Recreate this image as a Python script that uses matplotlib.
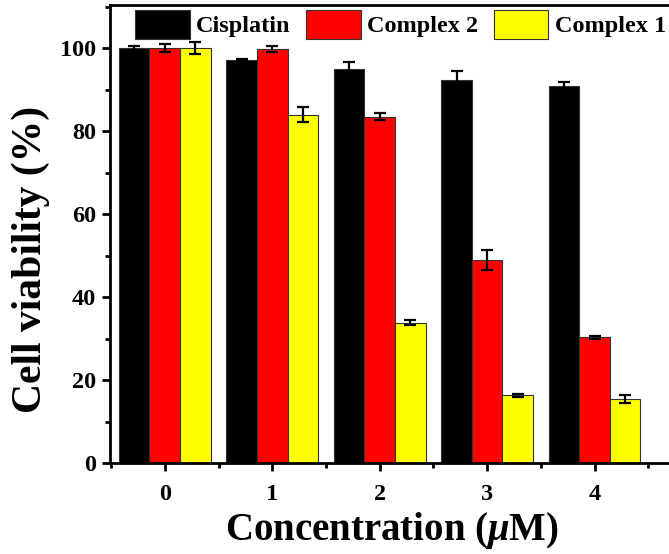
import matplotlib
matplotlib.use("Agg")
import matplotlib.pyplot as plt
import numpy as np
from matplotlib.ticker import MultipleLocator

plt.rcParams['font.family'] = ['Liberation Serif', 'DejaVu Serif']
plt.rcParams['font.weight'] = 'bold'
plt.rcParams['mathtext.fontset'] = 'custom'
plt.rcParams['mathtext.it'] = 'Liberation Serif:italic:bold'
plt.rcParams['mathtext.rm'] = 'Liberation Serif:bold'

concentrations = ["0", "1", "2", "3", "4"]
series_names = ["Cisplatin", "Complex 2", "Complex 1"]
cisplatin = [100.0, 97.1, 95.0, 92.4, 90.8]
cisplatin_err = [0.4, 0.3, 1.6, 2.1, 1.0]
complex2 = [100.0, 99.8, 83.5, 49.0, 30.3]
complex2_err = [1.0, 0.7, 0.8, 2.4, 0.3]
complex1 = [100.0, 84.0, 33.8, 16.3, 15.4]
complex1_err = [1.5, 1.8, 0.6, 0.4, 0.9]
colors = ["#000000", "#FF0000", "#FFFF00"]

fig = plt.figure(figsize=(6.69, 5.54), dpi=100)
ax = fig.add_axes([110 / 669, 91 / 554, 563 / 669, 458 / 554])

x = np.arange(len(concentrations))
width = 0.285
values = [cisplatin, complex2, complex1]
errors = [cisplatin_err, complex2_err, complex1_err]
for i, (vals, errs, col, name) in enumerate(zip(values, errors, colors, series_names)):
    ax.bar(x + (i - 1) * width, vals, width, color=col, edgecolor="#333333",
           linewidth=0.8, label=name, zorder=2)
    ax.errorbar(x + (i - 1) * width, vals, yerr=errs, fmt='none', ecolor='black',
                elinewidth=1.6, capsize=4.5, capthick=1.6, zorder=3)

ax.set_xlim(-0.51, 4.73)
ax.set_ylim(0, 110.4)
ax.set_xticks(x)
ax.set_xticklabels(concentrations)
ax.xaxis.set_minor_locator(MultipleLocator(0.5))
ax.yaxis.set_major_locator(MultipleLocator(20))
ax.yaxis.set_minor_locator(MultipleLocator(10))

for s in ax.spines.values():
    s.set_linewidth(2.0)
ax.tick_params(axis='both', which='major', direction='out', length=6, width=2,
               labelsize=17.5, pad=4)
ax.tick_params(axis='both', which='minor', direction='out', length=3.5, width=2)
ax.tick_params(top=False, right=False, which='both')
ax.tick_params(axis='x', which='major', pad=9)

ax.set_xlabel(r"Concentration ($\mu$M)", fontsize=28, fontweight='bold', labelpad=4)
ax.set_ylabel("Cell viability (%)", fontsize=30, fontweight='bold')
ax.yaxis.set_label_coords(-0.106, 0.445)

leg = ax.legend(loc='upper left', bbox_to_anchor=(135 / 669, 1 - 10 / 554),
                bbox_transform=fig.transFigure, ncol=3, frameon=False,
                fontsize=17.5, handlelength=2.25, handleheight=1.45,
                handletextpad=0.25, columnspacing=0.65, borderpad=0,
                borderaxespad=0)

fig.savefig("out.png", dpi=100, facecolor='white')
